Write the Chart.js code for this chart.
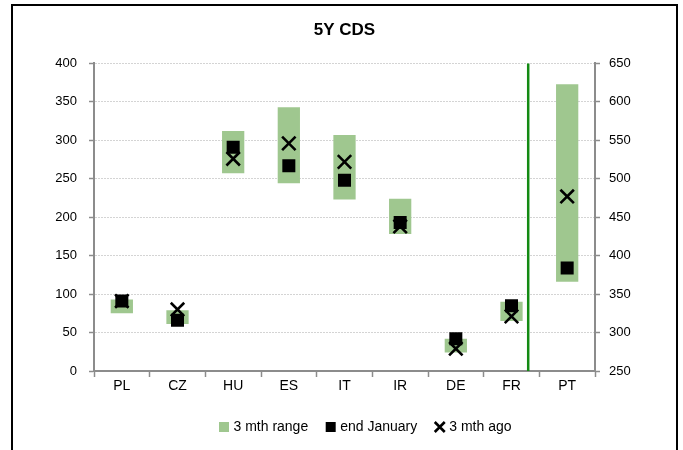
<!DOCTYPE html>
<html>
<head>
<meta charset="utf-8">
<script src="https://cdn.jsdelivr.net/npm/chart.js@4.4.1/dist/chart.umd.min.js"></script>
<style>
  html, body { margin: 0; padding: 0; background: #fff; }
  #wrap { width: 683px; height: 450px; position: relative; }
</style>
</head>
<body>
<div id="wrap"><canvas id="cds"></canvas></div>
<script>
// data (PT is on the right-hand axis)
const categories = ['PL', 'CZ', 'HU', 'ES', 'IT', 'IR', 'DE', 'FR', 'PT'];
const rangeLow  = [75, 61, 257, 244, 223, 178, 24, 65, 366];
const rangeHigh = [93, 79, 312, 343, 307, 224, 42, 90, 623];
const endJanuary = [91, 66, 291, 267, 248, 193, 42, 85, 384];
const threeMthAgo = [91, 80, 276, 296, 272, 188, 29, 71, 477];
const leftTicks = [0, 400, 50];   // min, max, step
const rightTicks = [250, 650, 50];
const rightAxisCats = ['PT'];

const green = '#9fc78f';
const axisGrey = '#8c8c8c';

// split each series into a left-axis part and a right-axis part
function leftPart(arr) {
  return arr.map((v, i) => rightAxisCats.includes(categories[i]) ? null : v);
}
function rightPart(arr) {
  return arr.map((v, i) => rightAxisCats.includes(categories[i]) ? v : null);
}
function ranges(lo, hi) {
  return lo.map((v, i) => v === null ? null : [v, hi[i]]);
}

const barStyle = {
  type: 'bar',
  backgroundColor: green,
  borderWidth: 0,
  barPercentage: 0.4,
  categoryPercentage: 1,
  grouped: false,
  pointStyle: 'rect',
  order: 3
};
const squareStyle = {
  type: 'line',
  showLine: false,
  pointStyle: 'rect',
  pointRadius: 9.2,
  pointBackgroundColor: '#000',
  pointBorderColor: '#000',
  pointBorderWidth: 0,
  backgroundColor: '#000',
  borderColor: '#000',
  order: 2
};
const crossStyle = {
  type: 'line',
  showLine: false,
  pointStyle: 'crossRot',
  pointRadius: 9.5,
  pointBorderColor: '#000',
  pointBorderWidth: 2.6,
  borderColor: '#000',
  backgroundColor: '#000',
  order: 1
};

// frame around the whole chart + green divider before PT
const dividerAt = 7.3;
const extras = {
  id: 'extras',
  beforeDraw(chart) {
    const ctx = chart.ctx;
    ctx.save();
    ctx.fillStyle = '#fff';
    ctx.fillRect(0, 0, chart.width, chart.height);
    ctx.strokeStyle = '#000';
    ctx.lineWidth = 2;
    ctx.strokeRect(12, 5, 665, 470);
    ctx.restore();
  },
  afterDatasetsDraw(chart) {
    const ctx = chart.ctx;
    const x = chart.scales.x.getPixelForValue(dividerAt);
    ctx.save();
    ctx.strokeStyle = '#138a13';
    ctx.lineWidth = 2.5;
    ctx.beginPath();
    ctx.moveTo(x, chart.chartArea.top);
    ctx.lineTo(x, chart.chartArea.bottom);
    ctx.stroke();
    ctx.restore();
  }
};

Chart.defaults.font.family = '"Liberation Sans", Arial, sans-serif';
Chart.defaults.color = '#000';

new Chart(document.getElementById('cds'), {
  data: {
    labels: categories,
    datasets: [
      Object.assign({ label: '3 mth range', data: ranges(leftPart(rangeLow), leftPart(rangeHigh)), yAxisID: 'y' }, barStyle),
      Object.assign({ label: 'end January', data: leftPart(endJanuary), yAxisID: 'y' }, squareStyle),
      Object.assign({ label: '3 mth ago', data: leftPart(threeMthAgo), yAxisID: 'y' }, crossStyle),
      Object.assign({ label: '3 mth range', data: ranges(rightPart(rangeLow), rightPart(rangeHigh)), yAxisID: 'y2' }, barStyle),
      Object.assign({ label: 'end January', data: rightPart(endJanuary), yAxisID: 'y2' }, squareStyle),
      Object.assign({ label: '3 mth ago', data: rightPart(threeMthAgo), yAxisID: 'y2' }, crossStyle)
    ]
  },
  options: {
    responsive: true,
    maintainAspectRatio: false,
    animation: false,
    layout: { padding: { left: 52, right: 2, top: 16, bottom: 6 } },
    plugins: {
      title: {
        display: true,
        fullSize: false,
        text: '5Y CDS',
        font: { size: 17, weight: 'bold' },
        padding: { top: 4, bottom: 23 }
      },
      legend: {
        position: 'bottom',
        labels: {
          usePointStyle: true,
          boxWidth: 5,
          boxHeight: 10,
          padding: 20,
          font: { size: 14 },
          filter: (item) => item.datasetIndex < 3,
          sort: (a, b) => a.datasetIndex - b.datasetIndex
        }
      },
      tooltip: { enabled: false }
    },
    scales: {
      x: {
        type: 'category',
        offset: true,
        afterFit: (scale) => { scale.height = 29; },
        grid: {
          offset: true,
          drawOnChartArea: false,
          tickLength: 6,
          tickColor: axisGrey,
          tickWidth: 1.5
        },
        border: { color: axisGrey, width: 2 },
        ticks: { font: { size: 14 }, padding: 1 }
      },
      y: {
        position: 'left',
        min: leftTicks[0],
        max: leftTicks[1],
        afterFit: (scale) => { scale.width = 42; },
        ticks: { stepSize: leftTicks[2], font: { size: 13 }, padding: 12 },
        grid: {
          color: '#d4d4d4',
          lineWidth: 1,
          tickLength: 5,
          tickColor: axisGrey,
          tickWidth: 1.5
        },
        border: { color: axisGrey, width: 2, dash: [2, 1] }
      },
      y2: {
        position: 'right',
        min: rightTicks[0],
        max: rightTicks[1],
        afterFit: (scale) => { scale.width = 86; },
        ticks: { stepSize: rightTicks[2], font: { size: 13 }, padding: 9 },
        grid: {
          drawOnChartArea: false,
          tickLength: 5,
          tickColor: axisGrey,
          tickWidth: 1.5
        },
        border: { color: axisGrey, width: 2 }
      }
    }
  },
  plugins: [extras]
});
</script>
</body>
</html>
